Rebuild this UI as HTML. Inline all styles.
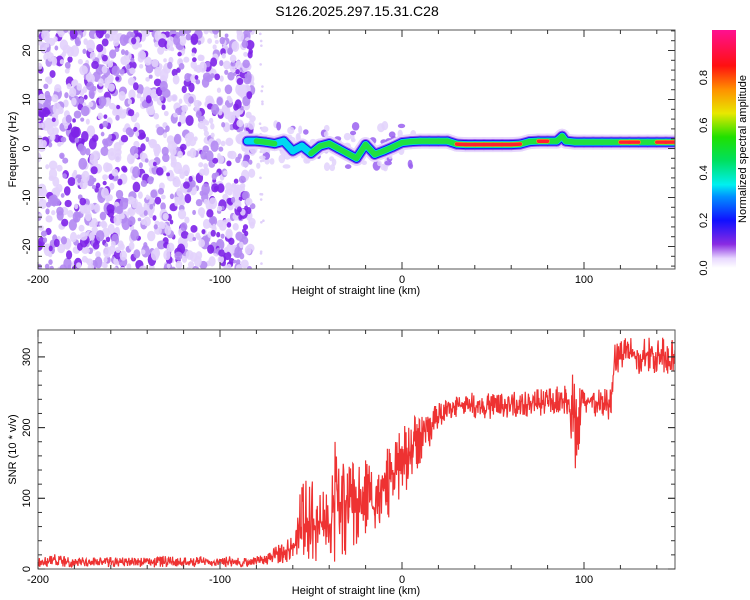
<!DOCTYPE html>
<html><head><meta charset="utf-8">
<style>
html,body{margin:0;padding:0;background:#fff;}
svg{display:block;font-family:"Liberation Sans",sans-serif;}
</style></head>
<body>
<svg id="chart" width="750" height="600" viewBox="0 0 750 600">
<defs>
<linearGradient id="cbar" x1="0" y1="1" x2="0" y2="0">
<stop offset="0" stop-color="#ffffff"/>
<stop offset="0.04" stop-color="#e8d8ff"/>
<stop offset="0.1" stop-color="#8a2be2"/>
<stop offset="0.2" stop-color="#1010ff"/>
<stop offset="0.3" stop-color="#0090ff"/>
<stop offset="0.35" stop-color="#00f0f0"/>
<stop offset="0.45" stop-color="#00e060"/>
<stop offset="0.55" stop-color="#20e000"/>
<stop offset="0.65" stop-color="#e8e800"/>
<stop offset="0.75" stop-color="#ff9000"/>
<stop offset="0.85" stop-color="#ff1010"/>
<stop offset="1" stop-color="#ff1090"/>
</linearGradient>
<clipPath id="topclip"><rect x="38" y="30" width="637" height="239"/></clipPath>
<clipPath id="botclip"><rect x="38" y="330" width="637" height="239"/></clipPath>
</defs>
<text x="357" y="16" font-size="14" text-anchor="middle">S126.2025.297.15.31.C28</text>
<g id="topPlot" clip-path="url(#topclip)"></g>
<g id="topaxes"></g>
<rect x="712" y="30" width="24" height="238" fill="url(#cbar)"/>
<g id="cbaxes"></g>
<text transform="translate(746,149) rotate(-90)" font-size="11" text-anchor="middle">Normalized spectral amplitude</text>
<g id="botPlot" clip-path="url(#botclip)"></g>
<g id="botaxes"></g>
</svg>
<script>
// ---- data ----
const xTicks = [-200, -100, 0, 100];
const freqTicks = [-20, -10, 0, 10, 20];
const snrTicks = [0, 100, 200, 300];
const cbTicks = [0.0, 0.2, 0.4, 0.6, 0.8];
const ridgeKm = [-85,-80,-75,-70,-65,-60,-55,-50,-45,-40,-35,-30,-25,-20,-15,-10,-5,0,5,10,15,20,25,30,35,40,45,50,55,60,65,70,75,80,85,88,90,95,100,105,110,115,120,125,130,135,140,145,150];
const ridgeFreq = [1.5,1.5,1.3,1.0,1.5,-0.5,0.5,-1.0,0.5,1.0,0.0,-1.0,-2.0,0.8,-1.2,-0.5,0.3,1.2,1.4,1.5,1.5,1.5,1.5,0.9,0.8,0.8,0.8,0.8,0.8,0.8,0.9,1.4,1.5,1.5,1.5,2.5,1.5,1.3,1.3,1.3,1.3,1.3,1.3,1.3,1.3,1.3,1.3,1.3,1.3];
const ridgeAmp = [0.45,0.5,0.55,0.5,0.45,0.4,0.45,0.5,0.55,0.5,0.55,0.7,0.6,0.55,0.6,0.65,0.6,0.55,0.6,0.6,0.6,0.6,0.6,0.95,0.95,0.95,0.95,0.95,0.95,0.95,0.9,0.6,0.9,0.9,0.6,0.9,0.6,0.6,0.6,0.7,0.6,0.6,0.9,0.9,0.85,0.6,0.85,0.9,0.9];
const snrKm = [-200,-195,-190,-185,-180,-175,-170,-165,-160,-155,-150,-145,-140,-135,-130,-125,-120,-115,-110,-105,-100,-95,-90,-85,-80,-75,-70,-65,-60,-55,-50,-45,-40,-35,-30,-25,-20,-15,-10,-5,0,5,10,15,20,25,30,35,40,45,50,55,60,65,70,75,80,85,90,95,100,105,110,115,117,120,125,130,135,140,145,150];
const snrLow = [3,2,3,3,2,3,3,2,3,3,2,3,3,2,3,3,2,3,3,2,3,3,2,3,3,5,8,8,12,20,10,10,8,10,20,35,40,55,65,75,100,120,150,165,190,205,215,215,212,210,212,212,213,215,215,215,218,220,218,130,215,215,218,205,275,280,285,275,280,270,275,280];
const snrHigh = [17,20,22,18,16,17,18,15,17,16,18,17,16,18,19,17,16,18,17,15,16,18,17,16,18,20,30,40,55,125,130,120,110,220,150,150,160,145,160,195,200,215,220,225,235,240,245,248,250,248,250,250,252,250,252,255,255,258,260,290,255,255,255,255,325,325,330,325,330,335,330,335];
// ---- scales ----
const X = km => 38 + (km + 200) * 1.82;
const YF = f => 148.5 - f * 4.9;
const YS = s => 569 - s * 0.707;
const YC = v => 268 - v * 238;
const NS = 'http://www.w3.org/2000/svg';
function mk(tag, attrs, parent){const e=document.createElementNS(NS,tag);for(const k in attrs)e.setAttribute(k,attrs[k]);parent.appendChild(e);return e;}
const topG = document.getElementById('topPlot'), botG = document.getElementById('botPlot');
// deterministic texture generator (visual noise only)
let seed = 12345;
function rnd(){seed=(seed*1103515245+12345)%2147483648;return seed/2147483648;}
const noiseG = mk('g',{},topG);


for(let i=0;i<1300;i++){
  const km=-200+rnd()*118, f=-25+rnd()*50, a=rnd();
  const col = a>0.8?'#7d22e8':(a>0.5?'#b288f2':'#e2d2fc');
  const r=1.8+rnd()*2.6;
  mk('ellipse',{cx:X(km),cy:YF(f),rx:r,ry:r*(1+rnd()*0.5),fill:col,opacity:0.9},noiseG);
}
for(let i=0;i<25;i++){ mk('circle',{cx:X(-78+rnd()*2),cy:YF(-25+rnd()*50),r:1.3,fill:'#e0d0fa'},noiseG); }
for(let i=0;i<120;i++){
  const km=-88+rnd()*95, f=-4+rnd()*9, a=rnd();
  mk('ellipse',{cx:X(km),cy:YF(f),rx:2+rnd()*2,ry:2+rnd()*3,fill:a>0.6?'#9a60f0':'#e2d2fc',opacity:0.85},noiseG);
}
// ridge
const levels=[[0.05,'#e6d6fc',15],[0.15,'#9a5cf0',11],[0.25,'#1a10f0',9],[0.35,'#00d8f0',7],[0.5,'#20e040',5.5],[0.7,'#f0e800',4.4],[0.8,'#ff2030',3.6]];
levels.forEach(([lv,col,w])=>{
  const g=mk('g',{},topG);
  
  
  for(let i=0;i<ridgeKm.length-1;i++){
    if(Math.min(ridgeAmp[i],ridgeAmp[i+1])>=lv){
      mk('line',{x1:X(ridgeKm[i]),y1:YF(ridgeFreq[i]),x2:X(ridgeKm[i+1]),y2:YF(ridgeFreq[i+1]),stroke:col,'stroke-width':w,'stroke-linecap':'round'},g);
    }
  }
});
// SNR: dense jittered trace inside the low/high envelope
const snrG=mk('g',{},botG);


let zz=[];
for(let i=0;i<snrKm.length-1;i++){
  const x0=X(snrKm[i]),x1=X(snrKm[i+1]);
  for(let x=x0;x<x1;x+=0.45){
    const t=(x-x0)/(x1-x0);
    const lo=snrLow[i]+(snrLow[i+1]-snrLow[i])*t, hi=snrHigh[i]+(snrHigh[i+1]-snrHigh[i])*t;
    const mid=(lo+hi)/2, half=(hi-lo)/2;
    const j=rnd(), sgn=rnd()<0.5?-1:1;
    const v=mid+sgn*half*Math.pow(j,1.4);
    zz.push(x.toFixed(2)+','+YS(v).toFixed(1));
  }
}
mk('polyline',{points:zz.join(' '),fill:'none',stroke:'#ee3232','stroke-width':1.2},snrG);
// axes
function axes(gid,y0,y1,yt,Yf,minor,ylab,yname){
  const g=document.getElementById(gid);
  const fr=mk('rect',{x:38,y:y0,width:637,height:y1-y0,fill:'none',stroke:'#555','stroke-width':1},g);
  
  
  for(let k=-200;k<=150;k+=20){const L=(k%100===0)?7:4;
    mk('line',{x1:X(k),y1:y1,x2:X(k),y2:y1-L,stroke:'#333'},g);mk('line',{x1:X(k),y1:y0,x2:X(k),y2:y0+L,stroke:'#333'},g);}
  xTicks.forEach(k=>{const t=mk('text',{x:X(k),y:y1+14,'font-size':11,'text-anchor':'middle'},g);t.textContent=k;
    });
  const xl=mk('text',{x:356,y:y1+25,'font-size':11,'text-anchor':'middle'},g);xl.textContent='Height of straight line (km)';
  
  minor.forEach(v=>{const yy=Yf(v);if(yy<y0||yy>y1)return;const L=yt.includes(v)?7:4;
    mk('line',{x1:38,y1:yy,x2:38+L,y2:yy,stroke:'#333'},g);mk('line',{x1:675,y1:yy,x2:675-L,y2:yy,stroke:'#333'},g);});
  yt.forEach(v=>{const t=mk('text',{transform:`translate(30,${Yf(v)}) rotate(-90)`,'font-size':11,'text-anchor':'middle'},g);t.textContent=v;
    });
  const yl=mk('text',{transform:`translate(16,${(y0+y1)/2}) rotate(-90)`,'font-size':11,'text-anchor':'middle'},g);yl.textContent=ylab;
  
}
const fm=[];for(let f=-24;f<=24;f+=2)fm.push(f);
axes('topaxes',30,269,freqTicks,YF,fm,'Frequency (Hz)','spectrogram');
const sm=[];for(let s=0;s<=330;s+=20)sm.push(s);
axes('botaxes',330,569,snrTicks,YS,sm.concat(snrTicks),'SNR (10 * v/v)','snr');
const cg=document.getElementById('cbaxes');
cbTicks.forEach(v=>{const t=mk('text',{transform:`translate(707,${YC(v)}) rotate(-90)`,'font-size':11,'text-anchor':'middle'},cg);t.textContent=v.toFixed(1);
  });
</script>
</body></html>
